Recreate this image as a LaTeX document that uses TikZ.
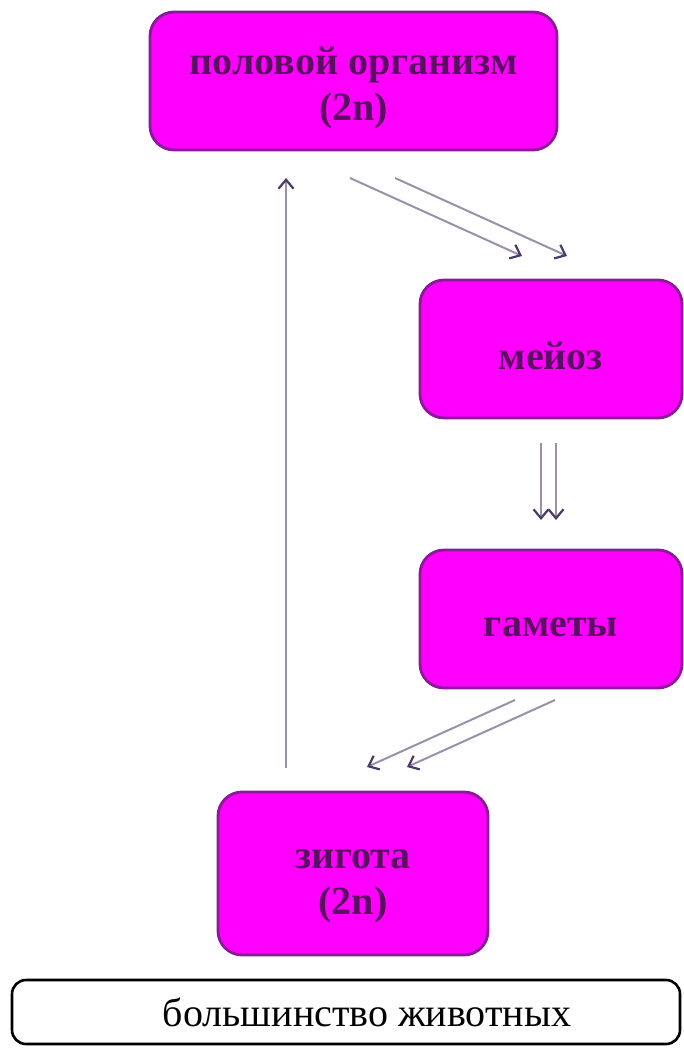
\documentclass[tikz,border=0pt]{standalone}
\usepackage{fontspec}
\setmainfont{Liberation Serif}
\usetikzlibrary{arrows.meta}
\definecolor{boxfill}{HTML}{FF00FF}
\definecolor{boxline}{HTML}{8A1A9A}
\definecolor{txt}{HTML}{5A1060}
\definecolor{arr}{HTML}{9A90A8}
\definecolor{head}{HTML}{4A3A6A}
\begin{document}
\begin{tikzpicture}[x=1pt,y=-1pt,
  stagebox/.style={draw=boxline,line width=2.8pt,fill=boxfill,rounded corners=24pt,inner sep=0pt},
  lbl/.style={text=txt,font=\fontsize{40}{46}\selectfont\bfseries,align=center,inner sep=0pt},
  flow/.style={draw=arr,line width=2pt,-{Straight Barb[length=9pt,width=15pt,line width=2.2pt,color=head]}},
]
\useasboundingbox (0,0) rectangle (683,1048);
\node[stagebox,minimum width=407pt,minimum height=138pt] (org) at (353.5,81) {};
\node[lbl] (orgt) at ([yshift=-7pt]org.center) {половой организм\\(2n)};
\node[stagebox,minimum width=262pt,minimum height=138pt] (mei) at (551,349) {};
\node[lbl] (meit) at ([yshift=-7pt]mei.center) {мейоз};
\node[stagebox,minimum width=262pt,minimum height=138pt] (gam) at (551,619) {};
\node[lbl] (gamt) at ([yshift=-8pt]gam.center) {гаметы};
\node[stagebox,minimum width=270pt,minimum height=163pt] (zyg) at (353,873.5) {};
\node[lbl] (zygt) at ([yshift=-13pt]zyg.center) {зигота\\(2n)};
\node[draw=black,line width=2.6pt,fill=white,rounded corners=14pt,minimum width=668pt,minimum height=64pt,
  inner sep=0pt] (note) at (346,1012) {};
\node[font=\fontsize{40}{44}\selectfont,inner sep=0pt] (notet) at ([xshift=21pt]note.center) {большинство животных};
\coordinate (u1) at (286,768);
\coordinate (u2) at (286,178);
\draw[flow] (u1) -- (u2);
\coordinate (a1) at (350,178); \coordinate (a2) at (522,256);
\coordinate (b1) at (395,178); \coordinate (b2) at (567,256);
\draw[flow] (a1) -- (a2);
\draw[flow] (b1) -- (b2);
\coordinate (c1) at (541,443); \coordinate (c2) at (541,520);
\coordinate (d1) at (556,443); \coordinate (d2) at (556,520);
\draw[flow] (c1) -- (c2);
\draw[flow] (d1) -- (d2);
\coordinate (e1) at (515,700); \coordinate (e2) at (367,767);
\coordinate (f1) at (555,700); \coordinate (f2) at (407,767);
\draw[flow] (e1) -- (e2);
\draw[flow] (f1) -- (f2);
\end{tikzpicture}
\end{document}
